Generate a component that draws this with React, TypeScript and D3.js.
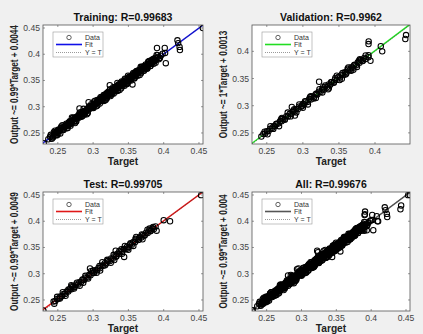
import * as d3 from "d3";

// [target, output] pairs for each data split
const trainingPoints: [number, number][] = [
  [0.23, 0.2305], [0.2365, 0.2381], [0.239, 0.2428], [0.2412, 0.244], [0.2428, 0.2419],
  [0.2445, 0.2472], [0.246, 0.2488], [0.2471, 0.2455], [0.2483, 0.251], [0.2496, 0.2533],
  [0.2508, 0.2497], [0.2517, 0.2548], [0.253, 0.2541], [0.2541, 0.2582], [0.2555, 0.256],
  [0.2566, 0.2603], [0.2578, 0.2571], [0.2589, 0.2622], [0.2601, 0.2611], [0.2614, 0.265],
  [0.2625, 0.2633], [0.2637, 0.2668], [0.2648, 0.2649], [0.2659, 0.2697], [0.2671, 0.2684],
  [0.2683, 0.2722], [0.2694, 0.269], [0.2705, 0.2738], [0.2716, 0.2745], [0.2728, 0.2719],
  [0.2739, 0.2778], [0.275, 0.2766], [0.2762, 0.2805], [0.2773, 0.2781], [0.2784, 0.2816],
  [0.2796, 0.2792], [0.2807, 0.2968], [0.281, 0.2841], [0.2822, 0.283], [0.2833, 0.2872],
  [0.2845, 0.2851], [0.2856, 0.2897], [0.2868, 0.2866], [0.2879, 0.2915], [0.289, 0.2903],
  [0.2902, 0.294], [0.2913, 0.2922], [0.2925, 0.2961], [0.2936, 0.3088], [0.2938, 0.2952],
  [0.2949, 0.2987], [0.2961, 0.2968], [0.2972, 0.3009], [0.2984, 0.2991], [0.2995, 0.3036],
  [0.3007, 0.3015], [0.3018, 0.3057], [0.303, 0.304], [0.3041, 0.3078], [0.3052, 0.306],
  [0.3064, 0.3105], [0.3075, 0.3081], [0.3087, 0.3126], [0.3098, 0.311], [0.311, 0.3152],
  [0.3121, 0.3125], [0.3133, 0.317], [0.3144, 0.3158], [0.3155, 0.3198], [0.3167, 0.3172],
  [0.3178, 0.3215], [0.319, 0.3201], [0.3201, 0.324], [0.3213, 0.3219], [0.3224, 0.3263],
  [0.3236, 0.3411], [0.324, 0.3248], [0.3251, 0.329], [0.3263, 0.3271], [0.3274, 0.3313],
  [0.3286, 0.329], [0.3297, 0.3336], [0.3309, 0.3318], [0.332, 0.336], [0.3332, 0.3338],
  [0.3343, 0.3452], [0.3345, 0.3382], [0.3357, 0.336], [0.3368, 0.3405], [0.338, 0.3388],
  [0.3391, 0.343], [0.3403, 0.3405], [0.3414, 0.3455], [0.3426, 0.3432], [0.3437, 0.3474],
  [0.3449, 0.3451], [0.346, 0.35], [0.3472, 0.348], [0.3483, 0.3521], [0.3495, 0.3498],
  [0.3506, 0.3545], [0.3518, 0.3525], [0.3529, 0.3566], [0.3541, 0.3549], [0.3552, 0.359],
  [0.3558, 0.3425], [0.3564, 0.3571], [0.3575, 0.3611], [0.3587, 0.3592], [0.3598, 0.3636],
  [0.361, 0.3616], [0.3621, 0.3657], [0.3633, 0.364], [0.3644, 0.368], [0.3656, 0.366],
  [0.3667, 0.3702], [0.3679, 0.3688], [0.369, 0.3725], [0.3702, 0.3706], [0.3713, 0.3748],
  [0.3725, 0.373], [0.3736, 0.377], [0.3748, 0.3751], [0.3759, 0.3792], [0.3771, 0.3776],
  [0.3782, 0.3815], [0.3794, 0.3798], [0.3805, 0.3837], [0.3817, 0.3822], [0.3828, 0.3858],
  [0.384, 0.3845], [0.3851, 0.388], [0.3863, 0.3866], [0.3874, 0.39], [0.3886, 0.3892],
  [0.3897, 0.3921], [0.3905, 0.4118], [0.392, 0.395], [0.394, 0.3921], [0.396, 0.3972],
  [0.3985, 0.401], [0.4015, 0.412], [0.402, 0.4025], [0.403, 0.383], [0.4195, 0.4265],
  [0.4205, 0.4212], [0.4225, 0.414], [0.423, 0.408], [0.4555, 0.45],
  [0.2855, 0.291], [0.288, 0.2852], [0.2975, 0.305], [0.3005, 0.2975], [0.306, 0.3128],
  [0.3095, 0.3062], [0.312, 0.3185], [0.3148, 0.311], [0.3172, 0.3232], [0.3195, 0.316],
  [0.3215, 0.3285], [0.3248, 0.3205], [0.3268, 0.333], [0.3292, 0.3252], [0.3318, 0.3378],
  [0.335, 0.3305], [0.3372, 0.343], [0.3398, 0.3352], [0.342, 0.3478], [0.3445, 0.34],
  [0.3468, 0.3528], [0.349, 0.3452], [0.3515, 0.3575], [0.3538, 0.3498], [0.356, 0.3618],
  [0.3585, 0.3548], [0.3608, 0.3668], [0.363, 0.359], [0.3655, 0.3712], [0.3678, 0.364],
  [0.37, 0.376], [0.3722, 0.3685], [0.3745, 0.3805], [0.3768, 0.373], [0.379, 0.385],
  [0.3812, 0.3775], [0.3835, 0.3895], [0.3858, 0.382], [0.388, 0.3935], [0.262, 0.2675],
  [0.268, 0.264], [0.2735, 0.279], [0.276, 0.2725], [0.254, 0.2595], [0.247, 0.252],
  [0.24, 0.2465], [0.243, 0.2415], [0.246, 0.2545], [0.249, 0.2455], [0.252, 0.2555],
  [0.255, 0.2625], [0.258, 0.2555], [0.261, 0.2635], [0.264, 0.2595], [0.267, 0.2725],
  [0.27, 0.2795], [0.273, 0.2725], [0.276, 0.2725], [0.279, 0.2835], [0.282, 0.2895],
  [0.285, 0.2825], [0.288, 0.2915], [0.291, 0.2855], [0.294, 0.3005], [0.297, 0.2995],
  [0.3, 0.2985], [0.303, 0.3115], [0.306, 0.3025], [0.309, 0.3145], [0.312, 0.3115],
  [0.315, 0.3225], [0.318, 0.3135], [0.321, 0.3255], [0.324, 0.3335], [0.327, 0.3245],
  [0.33, 0.3325], [0.333, 0.3295], [0.336, 0.3425], [0.339, 0.3425], [0.342, 0.3405],
  [0.345, 0.3535], [0.348, 0.3435], [0.351, 0.3565], [0.354, 0.3545], [0.357, 0.3645],
  [0.36, 0.3575], [0.363, 0.3675], [0.366, 0.3605], [0.369, 0.3755], [0.372, 0.3755],
  [0.375, 0.3735], [0.378, 0.3855], [0.381, 0.3775], [0.384, 0.3895], [0.387, 0.3865],
  [0.39, 0.3985], [0.393, 0.3905],
  [0.2415, 0.239], [0.2445, 0.252], [0.2475, 0.247], [0.2505, 0.256], [0.2535, 0.249],
  [0.2565, 0.265], [0.2595, 0.262], [0.2625, 0.259], [0.2655, 0.27], [0.2685, 0.267],
  [0.2715, 0.279], [0.2745, 0.269], [0.2775, 0.281], [0.2805, 0.287], [0.2835, 0.281],
  [0.2865, 0.296], [0.2895, 0.29], [0.2925, 0.288], [0.2955, 0.301], [0.2985, 0.298],
  [0.3015, 0.31], [0.3045, 0.301], [0.3075, 0.31], [0.3105, 0.318], [0.3135, 0.312],
  [0.3165, 0.312], [0.3195, 0.326], [0.3225, 0.327], [0.3255, 0.323], [0.3285, 0.337],
  [0.3315, 0.331], [0.3345, 0.34], [0.3375, 0.332], [0.3405, 0.348], [0.3435, 0.345],
  [0.3465, 0.343], [0.3495, 0.359], [0.3525, 0.351], [0.3555, 0.359], [0.3585, 0.354],
  [0.3615, 0.368], [0.3645, 0.365], [0.3675, 0.376], [0.3705, 0.368], [0.3735, 0.378],
  [0.3765, 0.373], [0.3795, 0.387], [0.3825, 0.382], [0.3855, 0.391], [0.3885, 0.384],
  [0.3915, 0.398], [0.3945, 0.393],
];

const validationPoints: [number, number][] = [
  [0.2425, 0.2432], [0.2452, 0.2478], [0.2478, 0.2489], [0.2501, 0.253], [0.2525, 0.2532],
  [0.2548, 0.2575], [0.257, 0.2581], [0.2593, 0.262], [0.2615, 0.2622], [0.2638, 0.2668],
  [0.266, 0.267], [0.2683, 0.2712], [0.2705, 0.2713], [0.2727, 0.2758], [0.275, 0.2756],
  [0.2772, 0.2805], [0.2795, 0.2802], [0.2817, 0.285], [0.2847, 0.2976], [0.284, 0.2845],
  [0.2862, 0.2895], [0.2885, 0.289], [0.289, 0.282], [0.2907, 0.294], [0.293, 0.2936],
  [0.2952, 0.2986], [0.2975, 0.298], [0.2997, 0.3032], [0.302, 0.3025], [0.3042, 0.3078],
  [0.3065, 0.307], [0.3087, 0.3122], [0.311, 0.3115], [0.3132, 0.3168], [0.3155, 0.316],
  [0.3177, 0.3212], [0.32, 0.3205], [0.3225, 0.344], [0.3222, 0.3258], [0.3245, 0.325],
  [0.3267, 0.3302], [0.329, 0.3295], [0.3312, 0.3348], [0.3335, 0.334], [0.3357, 0.3392],
  [0.338, 0.3385], [0.3402, 0.3438], [0.3425, 0.343], [0.3447, 0.3482], [0.347, 0.3475],
  [0.3492, 0.3528], [0.3515, 0.352], [0.3537, 0.3572], [0.356, 0.3565], [0.3582, 0.3618],
  [0.3605, 0.361], [0.3627, 0.3662], [0.365, 0.3655], [0.3672, 0.3708], [0.3695, 0.37],
  [0.3717, 0.3752], [0.374, 0.3745], [0.3762, 0.3798], [0.3785, 0.379], [0.3807, 0.384],
  [0.383, 0.3832], [0.3852, 0.388], [0.387, 0.386], [0.391, 0.393], [0.391, 0.4134],
  [0.3912, 0.4184], [0.3937, 0.3827], [0.408, 0.4095], [0.41, 0.4], [0.442, 0.4227],
  [0.443, 0.43],
  [0.27, 0.2755], [0.288, 0.2935], [0.3, 0.296], [0.31, 0.316], [0.318, 0.314],
  [0.328, 0.334], [0.336, 0.332], [0.345, 0.351], [0.354, 0.3495], [0.362, 0.368],
  [0.37, 0.366], [0.378, 0.383], [0.36, 0.359],
  [0.247, 0.2523], [0.251, 0.2473], [0.255, 0.2623], [0.259, 0.2573], [0.263, 0.2663],
  [0.267, 0.2623], [0.271, 0.2773], [0.275, 0.2743], [0.279, 0.2873], [0.283, 0.2803],
  [0.287, 0.2913], [0.291, 0.2873], [0.295, 0.3023], [0.299, 0.2993], [0.303, 0.3083],
  [0.307, 0.3023], [0.311, 0.3173], [0.315, 0.3133], [0.319, 0.3223], [0.323, 0.3303],
  [0.327, 0.3243], [0.331, 0.3373], [0.335, 0.3303], [0.339, 0.3433], [0.343, 0.3423],
  [0.347, 0.3553], [0.351, 0.3473], [0.355, 0.3603], [0.359, 0.3573], [0.363, 0.3703],
  [0.367, 0.3643], [0.371, 0.3743], [0.375, 0.3713], [0.379, 0.3853], [0.383, 0.3823],
  [0.387, 0.3923], [0.391, 0.3893],
];

const testPoints: [number, number][] = [
  [0.2295, 0.23], [0.244, 0.247], [0.2465, 0.248], [0.249, 0.252], [0.2512, 0.2528],
  [0.2535, 0.2566], [0.2558, 0.257], [0.258, 0.2612], [0.2603, 0.2615], [0.2625, 0.266],
  [0.2648, 0.266], [0.267, 0.2705], [0.2693, 0.2705], [0.2715, 0.275], [0.2738, 0.2748],
  [0.276, 0.2795], [0.2783, 0.2792], [0.2805, 0.284], [0.2828, 0.2838], [0.285, 0.2885],
  [0.2873, 0.2882], [0.2895, 0.293], [0.2918, 0.2926], [0.294, 0.2975], [0.2956, 0.31],
  [0.2963, 0.297], [0.2985, 0.302], [0.3008, 0.3015], [0.303, 0.3065], [0.3053, 0.306],
  [0.3075, 0.311], [0.3098, 0.3104], [0.312, 0.3155], [0.3143, 0.315], [0.3165, 0.32],
  [0.3188, 0.3194], [0.321, 0.3245], [0.3233, 0.324], [0.3255, 0.329], [0.3278, 0.3284],
  [0.33, 0.3335], [0.332, 0.344], [0.3323, 0.333], [0.3345, 0.338], [0.3368, 0.3374],
  [0.339, 0.3425], [0.3413, 0.342], [0.3435, 0.347], [0.344, 0.332], [0.3458, 0.3464],
  [0.348, 0.3515], [0.3503, 0.351], [0.3525, 0.356], [0.3548, 0.3554], [0.357, 0.3605],
  [0.3593, 0.3598], [0.3615, 0.365], [0.3638, 0.3643], [0.366, 0.3694], [0.3683, 0.3688],
  [0.3705, 0.3738], [0.3728, 0.3732], [0.375, 0.3782], [0.3773, 0.3776], [0.3795, 0.3826],
  [0.3818, 0.382], [0.384, 0.3868], [0.3862, 0.385], [0.3885, 0.39], [0.39, 0.382],
  [0.4, 0.402], [0.409, 0.4], [0.453, 0.4497],
  [0.27, 0.276], [0.286, 0.283], [0.3, 0.306], [0.31, 0.306], [0.32, 0.3265],
  [0.33, 0.326], [0.34, 0.3465], [0.35, 0.3455], [0.36, 0.3665], [0.37, 0.3655],
  [0.38, 0.386],
  [0.245, 0.243], [0.249, 0.256], [0.253, 0.253], [0.257, 0.265], [0.261, 0.258],
  [0.265, 0.27], [0.269, 0.278], [0.273, 0.272], [0.277, 0.283], [0.281, 0.277],
  [0.285, 0.289], [0.289, 0.296], [0.293, 0.291], [0.297, 0.305], [0.301, 0.302],
  [0.305, 0.302], [0.309, 0.315], [0.313, 0.322], [0.317, 0.316], [0.321, 0.325],
  [0.325, 0.321], [0.329, 0.336], [0.333, 0.333], [0.337, 0.343], [0.341, 0.338],
  [0.345, 0.353], [0.349, 0.348], [0.353, 0.358], [0.357, 0.353], [0.361, 0.37],
  [0.365, 0.365], [0.369, 0.375], [0.373, 0.373], [0.377, 0.384], [0.381, 0.381],
  [0.385, 0.389],
];

const allPoints = [...trainingPoints, ...validationPoints, ...testPoints];

const tickValues = [0.25, 0.3, 0.35, 0.4, 0.45];

const trainingLimits = [0.229, 0.4557];
const validationLimits = [0.2295, 0.4485];
const testLimits = [0.229, 0.4557];
const allLimits = [0.229, 0.4557];

const FONT = "'Liberation Sans', Arial, Helvetica, sans-serif";

interface PanelProps {
  id: string;
  left: number;
  top: number;
  width: number;
  height: number;
  title: string;
  slope: number;
  intercept: number;
  fitColor: string;
  points: [number, number][];
  limits: number[];
}

function Panel({ id, left, top, width, height, title, slope, intercept, fitColor, points, limits }: PanelProps) {
  const x = d3.scaleLinear().domain(limits).range([left, left + width]);
  const y = d3.scaleLinear().domain(limits).range([top + height, top]);
  const ticks = tickValues.filter((t) => t >= limits[0] && t <= limits[1]);
  const ylabel = `Output ~= ${slope}*Target + ${intercept}`;
  const [lo, hi] = limits;
  const lg = { x: left + 10, y: top + 7 };

  return (
    <g>
      <defs>
        <clipPath id={`clip-${id}`}>
          <rect x={left} y={top} width={width} height={height} />
        </clipPath>
      </defs>
      <rect x={left} y={top} width={width} height={height} fill="#fff" />
      <g clipPath={`url(#clip-${id})`}>
        <line
          x1={x(lo)} y1={y(slope * lo + intercept)}
          x2={x(hi)} y2={y(slope * hi + intercept)}
          stroke={fitColor} strokeWidth={1.4}
        />
        <line x1={x(lo)} y1={y(lo)} x2={x(hi)} y2={y(hi)}
          stroke="#333" strokeWidth={0.6} strokeDasharray="1,1.5" />
        {points.map((p, i) => (
          <circle key={i} cx={x(p[0])} cy={y(p[1])} r={2.7}
            fill="none" stroke="#000" strokeWidth={1.05} />
        ))}
      </g>
      <rect x={left} y={top} width={width} height={height}
        fill="none" stroke="#555" strokeWidth={0.8} />
      {ticks.map((t) => (
        <g key={t}>
          <line x1={x(t)} x2={x(t)} y1={top + height} y2={top + height - 2} stroke="#555" strokeWidth={0.6} />
          <line x1={x(t)} x2={x(t)} y1={top} y2={top + 2} stroke="#555" strokeWidth={0.6} />
          <line x1={left} x2={left + 2} y1={y(t)} y2={y(t)} stroke="#555" strokeWidth={0.6} />
          <line x1={left + width} x2={left + width - 2} y1={y(t)} y2={y(t)} stroke="#555" strokeWidth={0.6} />
          <text x={x(t)} y={top + height + 10} textAnchor="middle" fontSize={8.6} fill="#444">
            {String(t)}
          </text>
          <text x={left - 3} y={y(t) + 3} textAnchor="end" fontSize={8.6} fill="#444">
            {String(t)}
          </text>
        </g>
      ))}
      <text x={left + width / 2} y={top - 4} textAnchor="middle" fontSize={10.5} fontWeight="bold" fill="#111">
        {title}
      </text>
      <text x={left + width / 2} y={top + height + 20.5} textAnchor="middle" fontSize={10.2} fontWeight="bold" fill="#222">
        Target
      </text>
      <text
        transform={`translate(${left - 25},${top + height / 2}) rotate(-90) scale(0.82,1)`}
        textAnchor="middle" fontSize={10} fontWeight="bold" fill="#222"
      >
        {ylabel}
      </text>

      {/* legend */}
      <rect x={lg.x} y={lg.y} width={50} height={25} fill="#fff" stroke="#999" strokeWidth={0.6} />
      <circle cx={lg.x + 16} cy={lg.y + 5.5} r={2.2} fill="none" stroke="#222" strokeWidth={0.7} />
      <line x1={lg.x + 3} x2={lg.x + 29} y1={lg.y + 12.5} y2={lg.y + 12.5} stroke={fitColor} strokeWidth={1.6} />
      <line x1={lg.x + 3} x2={lg.x + 29} y1={lg.y + 20.5} y2={lg.y + 20.5}
        stroke="#555" strokeWidth={0.6} strokeDasharray="1,1" />
      <text x={lg.x + 32} y={lg.y + 8} fontSize={7} fill="#333">Data</text>
      <text x={lg.x + 32} y={lg.y + 15} fontSize={7} fill="#333">Fit</text>
      <text x={lg.x + 32} y={lg.y + 23} fontSize={7} fill="#333">Y = T</text>
    </g>
  );
}

export default function App() {
  return (
    <svg width={423} height={334} style={{ position: "absolute", left: 0, top: 0, fontFamily: FONT }}>
      <rect width={423} height={334} fill="#f0f0f0" />
      <Panel id="train" left={43} top={25} width={160} height={119} title="Training: R=0.99683"
        slope={0.99} intercept={0.0044} fitColor="#1010e8" points={trainingPoints} limits={trainingLimits} />
      <Panel id="val" left={252} top={25} width={158} height={119} title="Validation: R=0.9962"
        slope={1} intercept={0.0013} fitColor="#22dd22" points={validationPoints} limits={validationLimits} />
      <Panel id="test" left={43} top={192} width={160} height={119} title="Test: R=0.99705"
        slope={0.99} intercept={0.0049} fitColor="#e01818" points={testPoints} limits={testLimits} />
      <Panel id="all" left={252} top={192} width={158} height={119} title="All: R=0.99676"
        slope={0.99} intercept={0.004} fitColor="#555" points={allPoints} limits={allLimits} />
    </svg>
  );
}
